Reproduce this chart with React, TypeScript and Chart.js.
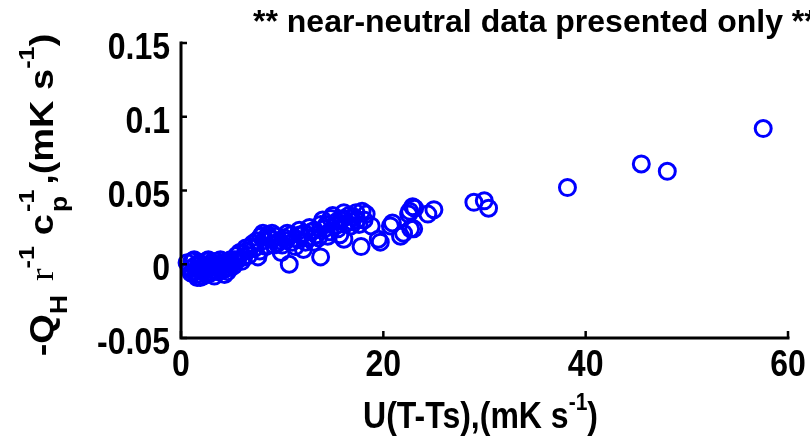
import { useEffect, useRef } from 'react';
import { Chart, registerables } from 'chart.js';

Chart.register(...registerables);

// ---- data ----
const xValues = [
  0.6, 0.9, 1.1, 1.2, 1.4, 1.5, 1.7, 1.8, 1.9, 2.1, 2.3, 2.5, 2.6, 2.8, 3.0, 3.2, 3.4, 3.7, 3.9, 4.1,
  4.3, 4.5, 4.8, 5.0, 5.3, 5.6, 5.8, 6.2, 6.5, 6.9, 7.3, 7.6, 7.9, 8.2, 8.6, 8.9, 9.2, 9.5, 9.9, 10.2,
  10.5, 10.7, 11.0, 11.5, 11.8, 12.1, 12.2, 12.5, 12.9, 13.1, 13.4, 13.8, 13.8, 14.2, 14.5, 14.8, 15.2, 15.5, 15.8, 16.1,
  16.1, 16.4, 16.8, 17.1, 17.4, 17.8, 17.9, 18.3, 18.8, 19.5, 19.7, 20.7, 20.9, 21.7, 22.0, 22.5, 22.6, 22.7, 22.9, 23.0,
  23.1, 24.4, 25.0, 28.95, 29.98, 30.4, 38.2, 45.5, 48.07, 57.55,
  1.0, 1.3, 1.6, 2.0, 2.2, 2.4, 2.7, 2.9, 3.1, 3.3, 3.5, 3.6, 3.8, 4.0, 4.2, 4.4, 4.6, 4.9, 5.2, 5.5,
  6.0, 6.4, 6.7, 7.1, 7.5, 7.8, 8.1, 8.4, 8.7, 9.0, 9.4, 9.7, 10.0, 10.4, 10.9, 11.3, 11.7, 12.3, 12.7, 13.2,
  13.6, 14.0, 14.4, 14.7, 15.0, 15.4, 15.7, 16.0, 16.6, 16.9, 17.3, 17.6, 18.1,
];
const yValues = [
  0.001, -0.003, 0.002, -0.005, -0.001, -0.007, -0.003, 0.001, -0.009, -0.005, -0.002, 0.002, -0.007, -0.001, 0.001, -0.004, 0.0, -0.003, 0.003, -0.001,
  -0.007, 0.002, -0.002, 0.001, 0.003, 0.003, 0.008, 0.005, 0.009, 0.012, 0.011, 0.005, 0.019, 0.016, 0.02, 0.017, 0.013, 0.014, 0.008, 0.018,
  0.021, 0.0, 0.015, 0.017, 0.02, 0.01, 0.021, 0.018, 0.022, 0.015, 0.02, 0.027, 0.005, 0.024, 0.019, 0.031, 0.026, 0.024, 0.03, 0.035,
  0.017, 0.028, 0.026, 0.032, 0.03, 0.012, 0.036, 0.034, 0.026, 0.017, 0.015, 0.026, 0.028, 0.019, 0.021, 0.034, 0.036, 0.024, 0.039, 0.024,
  0.038, 0.034, 0.037, 0.042, 0.043, 0.038, 0.052, 0.068, 0.063, 0.092,
  -0.006, 0.003, -0.009, 0.0, -0.008, -0.004, 0.003, -0.006, -0.002, -0.008, 0.002, -0.005, 0.0, -0.004, 0.001, -0.003, -0.005, 0.003, -0.001, 0.006,
  0.002, 0.011, 0.006, 0.014, 0.016, 0.009, 0.021, 0.012, 0.018, 0.021, 0.019, 0.016, 0.013, 0.016, 0.02, 0.012, 0.023, 0.015, 0.025, 0.023,
  0.018, 0.03, 0.027, 0.022, 0.033, 0.029, 0.02, 0.031, 0.033, 0.029, 0.035, 0.027, 0.03,
];
const xTicks = [0, 20, 40, 60];
const yTicks = [-0.05, 0, 0.05, 0.1, 0.15];
const titleText = '** near-neutral data presented only **';

const SANS = '"Liberation Sans", Arial, sans-serif';
const SERIF = '"Liberation Serif", "Times New Roman", serif';
const STRETCH = 1.15; // glyphs in the reference are taller than wide

type Seg = { t: string; size: number; dy?: number; serif?: boolean; normal?: boolean; stack?: Seg; gap?: number };

const yTitleSegs: Seg[] = [
  { t: '-Q', size: 33 },
  { t: 'H', size: 23, dy: 14 },
  { t: ' ', size: 33, gap: 3 },
  { t: 'r', size: 33, serif: true, normal: true },
  { t: '-1', size: 22, dy: -19 },
  { t: ' c', size: 33, gap: 2 },
  { t: '-1', size: 22, dy: -19, stack: { t: 'p', size: 23, dy: 14 }, gap: 4 },
  { t: ',(mK s', size: 33 },
  { t: '-1', size: 22, dy: -19 },
  { t: ')', size: 33 },
];
const xTitleSegs: Seg[] = [
  { t: 'U(T-Ts),(mK s', size: 32 },
  { t: '-1', size: 21, dy: -16 },
  { t: ')', size: 32 },
];

function segFont(s: Seg) {
  return `${s.normal ? 'normal' : 'bold'} ${s.size}px ${s.serif ? SERIF : SANS}`;
}

function segWidth(ctx: CanvasRenderingContext2D, s: Seg) {
  ctx.font = segFont(s);
  let w = ctx.measureText(s.t).width;
  if (s.stack) {
    ctx.font = segFont(s.stack);
    w = Math.max(w, ctx.measureText(s.stack.t).width);
  }
  return w + (s.gap || 0);
}

function drawRich(ctx: CanvasRenderingContext2D, segs: Seg[], x: number, y: number, centered: boolean) {
  let total = 0;
  segs.forEach((s) => (total += segWidth(ctx, s)));
  let cx = centered ? x - total / 2 : x;
  ctx.textAlign = 'left';
  ctx.textBaseline = 'alphabetic';
  segs.forEach((s) => {
    const w = segWidth(ctx, s);
    ctx.font = segFont(s);
    ctx.fillText(s.t, cx, y + (s.dy || 0));
    if (s.stack) {
      ctx.font = segFont(s.stack);
      ctx.fillText(s.stack.t, cx, y + (s.stack.dy || 0));
    }
    cx += w;
  });
}

function stretchedText(ctx: CanvasRenderingContext2D, text: string, x: number, y: number, align: CanvasTextAlign) {
  ctx.save();
  ctx.translate(x, y);
  ctx.scale(1, STRETCH);
  ctx.font = `bold 32px ${SANS}`;
  ctx.textAlign = align;
  ctx.textBaseline = 'alphabetic';
  ctx.fillText(text, 0, 0);
  ctx.restore();
}

const fmtY = (v: number) => String(Number(v.toFixed(2)));

const decorPlugin = {
  id: 'matlabDecor',
  afterDatasetsDraw(chart: any) {
    const { ctx, chartArea, scales } = chart;
    const xs = scales.x;
    const ys = scales.y;
    ctx.save();
    ctx.strokeStyle = '#000';
    ctx.lineWidth = 3;
    ctx.lineCap = 'square';
    ctx.beginPath();
    ctx.moveTo(chartArea.left, chartArea.top);
    ctx.lineTo(chartArea.left, chartArea.bottom);
    ctx.lineTo(chartArea.right, chartArea.bottom);
    ctx.stroke();
    ctx.lineWidth = 2.5;
    ctx.lineCap = 'butt';
    xTicks.forEach((v) => {
      const px = xs.getPixelForValue(v);
      ctx.beginPath();
      ctx.moveTo(px, chartArea.bottom);
      ctx.lineTo(px, chartArea.bottom - 7);
      ctx.stroke();
    });
    yTicks.forEach((v) => {
      const py = ys.getPixelForValue(v);
      ctx.beginPath();
      ctx.moveTo(chartArea.left, py);
      ctx.lineTo(chartArea.left + 6, py);
      ctx.stroke();
    });
    ctx.fillStyle = '#000';
    // tick labels
    xTicks.forEach((v) => {
      stretchedText(ctx, String(v), xs.getPixelForValue(v), chartArea.bottom + 38, 'center');
    });
    yTicks.forEach((v) => {
      stretchedText(ctx, fmtY(v), chartArea.left - 11, ys.getPixelForValue(v) + 16, 'right');
    });
    // title
    ctx.font = `bold 32px ${SANS}`;
    ctx.textAlign = 'left';
    ctx.textBaseline = 'alphabetic';
    ctx.fillText(titleText, 253, 32);
    // x title
    ctx.save();
    ctx.translate((chartArea.left + chartArea.right) / 2 - 4, 428);
    ctx.scale(1, STRETCH);
    drawRich(ctx, xTitleSegs, 0, 0, true);
    ctx.restore();
    // y title
    ctx.save();
    ctx.translate(53, 195);
    ctx.scale(1, STRETCH);
    ctx.rotate(-Math.PI / 2);
    drawRich(ctx, yTitleSegs, 0, 0, true);
    ctx.restore();
    ctx.restore();
  },
};

export default function App() {
  const ref = useRef<HTMLCanvasElement | null>(null);
  useEffect(() => {
    document.body.style.margin = '0';
    const canvas = ref.current;
    if (!canvas) return;
    const points = xValues.map((x, i) => ({ x, y: yValues[i] }));
    const chart = new Chart(canvas, {
      type: 'scatter',
      data: {
        datasets: [
          {
            data: points,
            pointStyle: 'circle',
            pointRadius: 8,
            pointHoverRadius: 8,
            borderWidth: 3,
            pointBorderWidth: 3,
            borderColor: '#0000ff',
            pointBorderColor: '#0000ff',
            backgroundColor: 'rgba(0,0,0,0)',
            pointBackgroundColor: 'rgba(0,0,0,0)',
            clip: false as any,
          },
        ],
      },
      options: {
        animation: false,
        responsive: false,
        devicePixelRatio: 1,
        layout: { padding: { top: 43, right: 22, left: 0, bottom: 0 } },
        plugins: { legend: { display: false }, tooltip: { enabled: false }, title: { display: false } },
        scales: {
          x: {
            type: 'linear',
            min: 0,
            max: 60,
            afterBuildTicks: (s: any) => {
              s.ticks = xTicks.map((v) => ({ value: v }));
            },
            afterFit: (s: any) => {
              s.height = 105;
            },
            grid: { display: false },
            border: { display: false },
            ticks: { display: false },
          },
          y: {
            type: 'linear',
            min: -0.05,
            max: 0.15,
            afterBuildTicks: (s: any) => {
              s.ticks = yTicks.map((v) => ({ value: v }));
            },
            afterFit: (s: any) => {
              s.width = 181;
            },
            grid: { display: false },
            border: { display: false },
            ticks: { display: false },
          },
        },
      },
      plugins: [decorPlugin],
    });
    return () => chart.destroy();
  }, []);
  return <canvas ref={ref} width={810} height={443} style={{ display: 'block' }} />;
}
